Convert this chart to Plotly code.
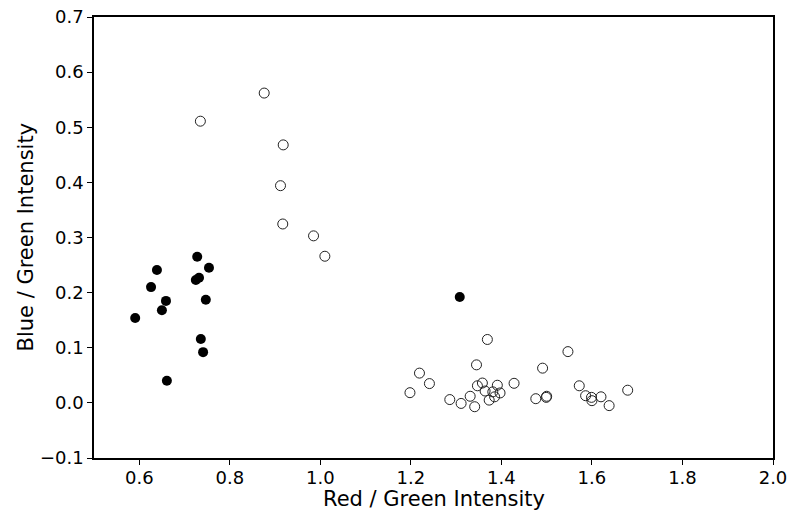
import plotly.graph_objects as go

# Filled (black) points
filled_x = [0.591, 0.626, 0.639, 0.650, 0.659, 0.661, 0.725, 0.728, 0.732, 0.736, 0.741, 0.747, 0.754, 1.308]
filled_y = [0.154, 0.210, 0.241, 0.168, 0.185, 0.040, 0.223, 0.265, 0.227, 0.116, 0.092, 0.187, 0.245, 0.192]

# Open points
open_x = [0.876, 0.735, 0.918, 0.912, 0.917, 0.985, 1.010, 1.369, 1.219, 1.241, 1.198, 1.286,
          1.311, 1.331, 1.341, 1.345, 1.347, 1.358, 1.364, 1.373, 1.381, 1.385, 1.391, 1.397,
          1.428, 1.476, 1.491, 1.500, 1.499, 1.547, 1.572, 1.586, 1.599, 1.600, 1.620, 1.638, 1.679]
open_y = [0.562, 0.511, 0.468, 0.394, 0.3245, 0.303, 0.266, 0.115, 0.054, 0.035, 0.0185, 0.006,
          -0.001, 0.012, -0.007, 0.069, 0.031, 0.036, 0.0215, 0.005, 0.020, 0.011, 0.032, 0.018,
          0.0355, 0.0076, 0.063, 0.012, 0.010, 0.093, 0.031, 0.013, 0.010, 0.004, 0.011, -0.005, 0.023]

x_ticks = [0.6, 0.8, 1.0, 1.2, 1.4, 1.6, 1.8, 2.0]
y_ticks = [-0.1, 0.0, 0.1, 0.2, 0.3, 0.4, 0.5, 0.6, 0.7]
x_title = "Red / Green Intensity"
y_title = "Blue / Green Intensity"

fig = go.Figure()
fig.add_trace(go.Scatter(
    x=open_x, y=open_y, mode="markers",
    marker=dict(symbol="circle-open", size=10, color="#222222", line=dict(width=1, color="#222222")),
    showlegend=False,
))
fig.add_trace(go.Scatter(
    x=filled_x, y=filled_y, mode="markers",
    marker=dict(symbol="circle", size=10, color="black", line=dict(width=0)),
    showlegend=False,
))

axis_common = dict(
    showline=True, linecolor="black", linewidth=1.5, mirror=True,
    ticks="outside", ticklen=5, tickwidth=1.2, tickcolor="black",
    showgrid=False, zeroline=False, automargin=False,
    tickfont=dict(family="DejaVu Sans", size=18, color="black"),
    tickformat=".1f",
)

fig.update_xaxes(range=[0.5, 2.0], tickvals=x_ticks, ticklabelstandoff=-2, **axis_common)
fig.update_yaxes(range=[-0.1, 0.7], tickvals=y_ticks, **axis_common)

title_font = dict(family="DejaVu Sans", size=21, color="black")
fig.add_annotation(text=x_title, xref="paper", yref="paper", x=0.5, y=0,
                   xanchor="center", yanchor="middle", yshift=-41,
                   showarrow=False, font=title_font)
fig.add_annotation(text=y_title, xref="paper", yref="paper", x=0, y=0.5,
                   xanchor="center", yanchor="middle", xshift=-69, textangle=-90,
                   showarrow=False, font=title_font)

fig.update_layout(
    width=791, height=510,
    margin=dict(l=94, r=18, t=17, b=52),
    paper_bgcolor="white", plot_bgcolor="white",
)

fig.write_html("out.html")
